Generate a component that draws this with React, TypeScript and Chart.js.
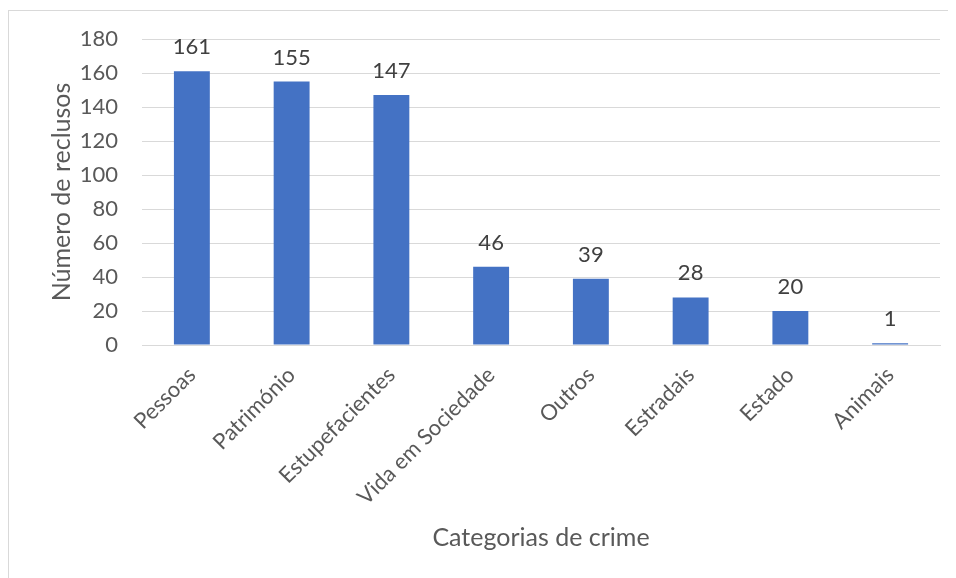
import React, { useEffect, useRef } from "react";
import { Chart, registerables } from "chart.js";

Chart.register(...registerables);

const categories = [
  "Pessoas",
  "Património",
  "Estupefacientes",
  "Vida em Sociedade",
  "Outros",
  "Estradais",
  "Estado",
  "Animais",
];
const reclusos = [161, 155, 147, 46, 39, 28, 20, 1];
const yTicks = [0, 20, 40, 60, 80, 100, 120, 140, 160, 180];

const FONT = "Lato, 'Open Sans', sans-serif";

const valueLabels = {
  id: "valueLabels",
  afterDatasetsDraw(chart: any) {
    const ctx = chart.ctx;
    const meta = chart.getDatasetMeta(0);
    ctx.save();
    ctx.font = `22px ${FONT}`;
    ctx.fillStyle = "#404040";
    ctx.textAlign = "center";
    ctx.textBaseline = "middle";
    meta.data.forEach((bar: any, i: number) => {
      ctx.fillText(String(chart.data.datasets[0].data[i]), bar.x, bar.y - 24);
    });
    ctx.restore();
  },
};

export default function App() {
  const ref = useRef<HTMLCanvasElement>(null);
  useEffect(() => {
    if (!ref.current) return;
    const chart = new Chart(ref.current, {
      type: "bar",
      data: {
        labels: categories,
        datasets: [
          {
            data: reclusos,
            backgroundColor: "#4472C4",
            categoryPercentage: 1,
            barPercentage: 0.36,
          },
        ],
      },
      plugins: [valueLabels],
      options: {
        animation: false,
        responsive: false,
        maintainAspectRatio: false,
        layout: { padding: { top: 28, right: 16, left: 0, bottom: 0 } },
        plugins: { legend: { display: false }, tooltip: { enabled: false } },
        scales: {
          x: {
            grid: { display: false, drawTicks: false },
            border: { display: true, color: "#d9d9d9", width: 1 },
            ticks: {
              color: "#595959",
              font: { family: FONT, size: 22 },
              minRotation: 45,
              maxRotation: 45,
              padding: 17,
            },
            title: {
              display: true,
              text: "Categorias de crime",
              color: "#595959",
              font: { family: FONT, size: 25 },
              padding: { top: 0, bottom: 25 },
            },
            afterFit(scale: any) {
              scale.height = 233;
              scale.paddingLeft = 0;
              scale.paddingRight = 0;
            },
          },
          y: {
            min: 0,
            max: 180,
            afterBuildTicks(scale: any) {
              scale.ticks = yTicks.map((v) => ({ value: v }));
            },
            grid: { color: "#d9d9d9", lineWidth: 1, drawTicks: false },
            border: { display: false },
            ticks: {
              color: "#595959",
              font: { family: FONT, size: 22 },
              padding: 24,
            },
            title: {
              display: true,
              text: "Número de reclusos",
              color: "#595959",
              font: { family: FONT, size: 25 },
              padding: { top: 38, bottom: 0 },
            },
            afterFit(scale: any) {
              scale.width = 133;
              scale.paddingTop = 0;
              scale.paddingBottom = 0;
            },
          },
        },
      },
    });
    return () => chart.destroy();
  }, []);
  return (
    <div
      style={{
        marginTop: 2,
        width: 947,
        height: 567,
        borderLeft: "1px solid #d9d9d9",
        borderTop: "1px solid #d9d9d9",
        background: "#fff",
      }}
    >
      <canvas ref={ref} width={947} height={567} style={{ display: "block" }} />
    </div>
  );
}
